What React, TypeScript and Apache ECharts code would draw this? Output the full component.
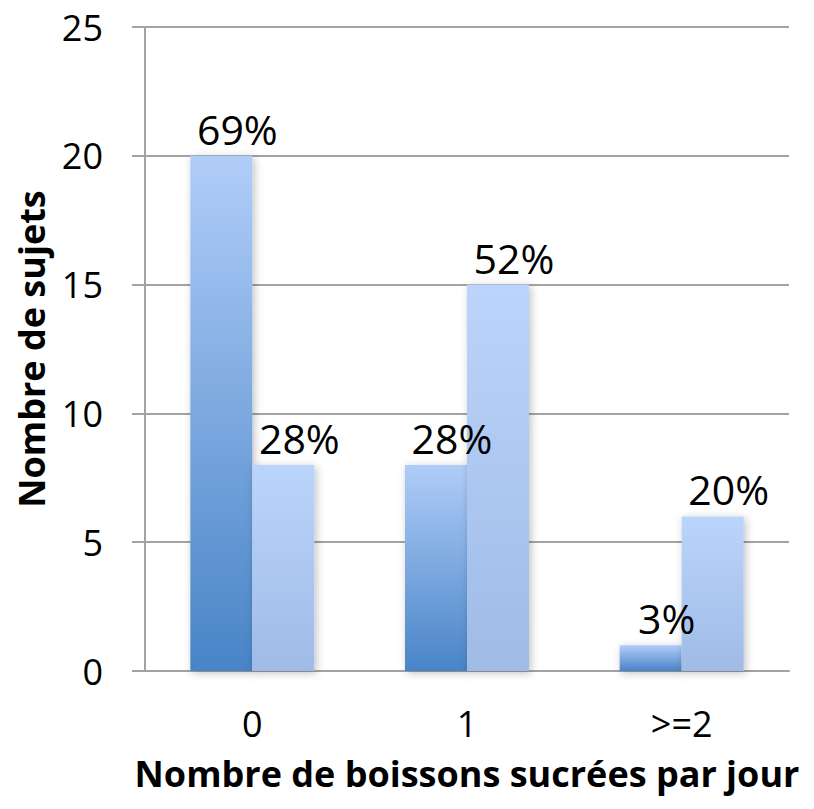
import React, { useEffect, useRef } from "react";
import * as echarts from "echarts";

const categories = ["0", "1", ">=2"];
const series1Values = [20, 8, 1];
const series2Values = [8, 15, 6];
const series1Labels = ["69%", "28%", "3%"];
const series2Labels = ["28%", "52%", "20%"];
const yTicks = { min: 0, max: 25, interval: 5 };

const FONT = "'Open Sans', sans-serif";

export default function App() {
  const ref = useRef<HTMLDivElement>(null);
  useEffect(() => {
    if (!ref.current) return;
    const chart = echarts.init(ref.current, null, { renderer: "svg" });
    const grad = (top: string, bottom: string) =>
      new echarts.graphic.LinearGradient(0, 0, 0, 1, [
        { offset: 0, color: top },
        { offset: 1, color: bottom },
      ]);
    const lineColor = "#a3a3a3";
    const mkLabel = (labels: string[]) => ({
      show: true,
      position: "top",
      distance: 5,
      offset: [16, 0],
      fontFamily: FONT,
      fontSize: 41,
      lineHeight: 44,
      color: "#000",
      formatter: (p: any) => labels[p.dataIndex],
    });
    chart.setOption({
      animation: false,
      backgroundColor: "#fff",
      grid: { left: 145, right: 25, top: 27, bottom: 138, containLabel: false },
      xAxis: {
        type: "category",
        data: categories,
        axisLine: { show: true, lineStyle: { color: lineColor, width: 2 } },
        axisTick: { show: false },
        axisLabel: { fontFamily: FONT, fontSize: 36, lineHeight: 36, color: "#000", margin: 34 },
        name: "Nombre de boissons sucrées par jour",
        nameLocation: "middle",
        nameGap: 82,
        nameTextStyle: { fontFamily: FONT, fontSize: 36, lineHeight: 40, fontWeight: "bold", color: "#000" },
      },
      yAxis: {
        type: "value",
        min: yTicks.min,
        max: yTicks.max,
        interval: yTicks.interval,
        axisLine: { show: true, lineStyle: { color: lineColor, width: 2 } },
        axisTick: { show: true, inside: false, length: 13, lineStyle: { color: lineColor, width: 2 } },
        splitLine: { show: true, lineStyle: { color: lineColor, width: 2 } },
        axisLabel: { fontFamily: FONT, fontSize: 36, color: "#000", margin: 42 },
        name: "Nombre de sujets",
        nameLocation: "middle",
        nameGap: 96,
        nameTextStyle: { fontFamily: FONT, fontSize: 36, fontWeight: "bold", color: "#000" },
      },
      series: [
        {
          type: "bar",
          data: series1Values,
          barWidth: 62,
          barGap: "0%",
          itemStyle: {
            color: grad("#b0cdf8", "#4884c7"),
            shadowBlur: 8,
            shadowColor: "rgba(0,0,0,0.25)",
            shadowOffsetX: 2,
            shadowOffsetY: 2,
          },
          label: mkLabel(series1Labels),
        },
        {
          type: "bar",
          data: series2Values,
          barWidth: 62,
          barGap: "0%",
          itemStyle: {
            color: grad("#bbd4fb", "#9fbbe6"),
            shadowBlur: 8,
            shadowColor: "rgba(0,0,0,0.25)",
            shadowOffsetX: 2,
            shadowOffsetY: 2,
          },
          label: mkLabel(series2Labels),
        },
      ],
    });
    return () => chart.dispose();
  }, []);
  return (
    <div
      ref={ref}
      style={{ position: "absolute", left: 0, top: 0, width: 814, height: 809 }}
    />
  );
}
